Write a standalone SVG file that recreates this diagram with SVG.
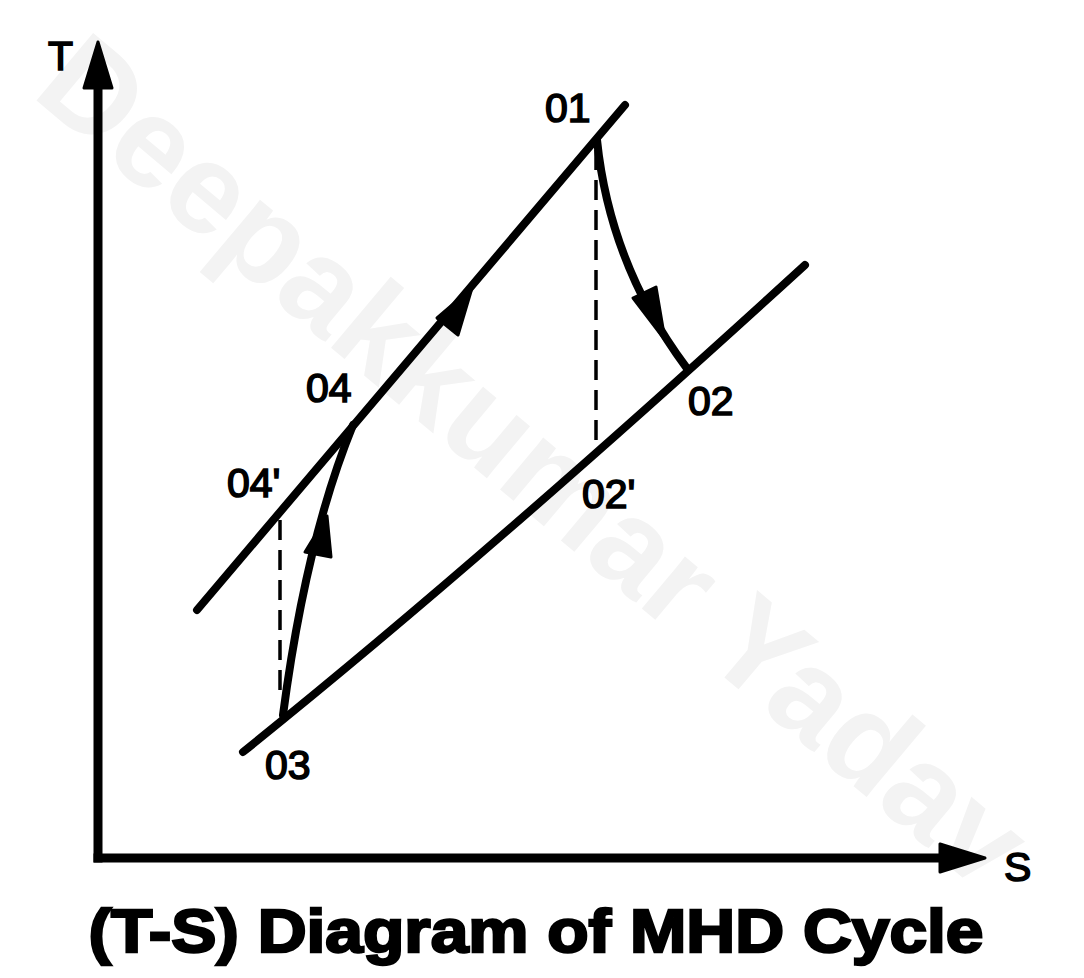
<svg xmlns="http://www.w3.org/2000/svg" width="1084" height="978" viewBox="0 0 1084 978">
<style>
.ln{fill:none;stroke:#000;stroke-width:8;stroke-linecap:round;stroke-linejoin:round}
.ax{fill:none;stroke:#000;stroke-width:9;stroke-linecap:square}
.ds{fill:none;stroke:#000;stroke-width:3.5;stroke-dasharray:20 10}
.hd{fill:#000;stroke:#000;stroke-width:3;stroke-linejoin:round}
.lb{font-family:"Liberation Sans",Arial,sans-serif;font-size:41px;fill:#000;stroke:#000;stroke-width:1.6}
.wm{font-family:"Liberation Sans",Arial,sans-serif;font-weight:bold;font-size:128px;fill:#f3f3f3}
.tt{font-family:"Liberation Sans",Arial,sans-serif;font-weight:bold;font-size:62px;fill:#000;stroke:#000;stroke-width:2.5}
</style>
<rect width="1084" height="978" fill="#fff"/>
<text class="wm" x="535" y="505" text-anchor="middle" transform="rotate(40 535 460)">Deepakkumar Yadav</text>
<g id="axes">
<line class="ax" x1="98" y1="858" x2="98" y2="80"/>
<line class="ax" x1="98" y1="858" x2="945" y2="858"/>
<polygon class="hd" points="98,42 84,88 112,88"/>
<polygon class="hd" points="985,858 940,844 940,872"/>
<text class="lb" x="48" y="70">T</text>
<text class="lb" x="1004" y="881">S</text>
</g>
<g id="connectors">
<line class="ln" x1="197" y1="610" x2="625" y2="105"/>
<path class="ln" d="M243,752 Q480,562 805,265"/>
<path class="ln" d="M283,715 Q306,540 353,425"/>
<path class="ln" d="M597,140 Q610,265 686,367"/>
<line class="ds" x1="596" y1="150" x2="596" y2="450"/>
<line class="ds" x1="280" y1="520" x2="280" y2="700"/>
<polygon class="hd" points="472,288 437,318 458,335"/>
<polygon class="hd" points="327,516 305,552 331,557"/>
<polygon class="hd" points="665,340 633,298 656,287"/>
</g>
<g id="n01"><text class="lb" x="545" y="122">01</text></g>
<g id="n04"><text class="lb" x="306" y="402">04</text></g>
<g id="n04p"><text class="lb" x="227" y="497">04'</text></g>
<g id="n02"><text class="lb" x="688" y="415">02</text></g>
<g id="n02p"><text class="lb" x="582" y="508">02'</text></g>
<g id="n03"><text class="lb" x="265" y="779">03</text></g>
<text class="tt" x="536" y="952" text-anchor="middle" textLength="895" lengthAdjust="spacingAndGlyphs">(T-S) Diagram of MHD Cycle</text>
</svg>
